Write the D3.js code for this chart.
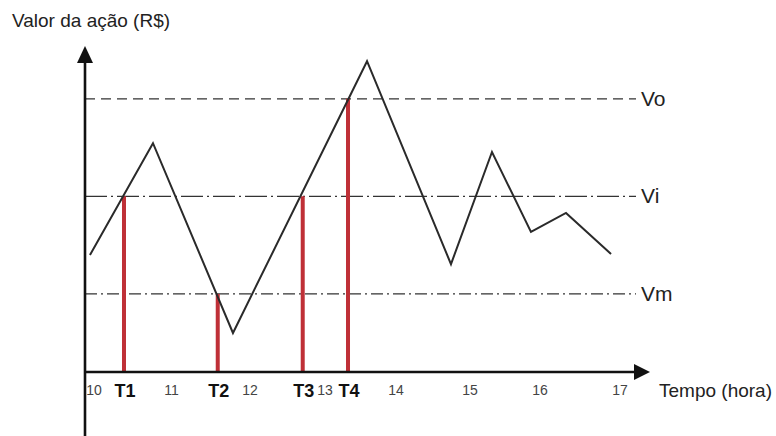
<!DOCTYPE html>
<html>
<head>
<meta charset="utf-8">
<script src="https://cdn.jsdelivr.net/npm/d3@7"></script>
<style>
  html, body { margin: 0; padding: 0; background: #fff; }
  svg { display: block; }
  text { font-family: Arial, "Liberation Sans", sans-serif; }
</style>
</head>
<body>
<svg id="chart" width="776" height="436"></svg>
<script>
// ---- data ----
const priceHours  = [9.948, 10.761, 11.783, 13.592, 14.743, 15.314, 15.871, 16.325, 16.888];
const priceValues = [8.80, 11.09, 7.20, 12.77, 8.61, 10.91, 9.27, 9.66, 8.82];

const levelNames  = ["Vo", "Vi", "Vm"];
const levelValues = [12, 10, 8];
const levelDashes = ["10,6", "22,4,2,4", "12,4,2,4"];

const eventNames  = ["T1", "T2", "T3", "T4"];
const eventHours  = [10.387, 11.589, 12.703, 13.324];
const eventLevels = ["Vi", "Vm", "Vi", "Vo"];

const hourTicks   = [10, 11, 12, 13, 14, 15, 16, 17];

const yTitle = "Valor da ação (R$)";
const xTitle = "Tempo (hora)";

// ---- layout ----
const W = 776, H = 436;
const axisX = 85;
// the hand-drawn time axis is not evenly spaced: piecewise-linear scale
const x = d3.scaleLinear().domain(hourTicks).range([94, 171.5, 250, 325, 396, 470, 540, 620]);
const y = d3.scaleLinear().domain([6.4, 13]).range([372, 50]);
const axisY = y(6.4);
const levelEnd = 636;

const svg = d3.select("#chart");

// threshold lines
const levels = levelNames.map((n, i) => ({ name: n, value: levelValues[i], dash: levelDashes[i] }));
svg.append("g").selectAll("line").data(levels).join("line")
  .attr("x1", axisX).attr("x2", levelEnd)
  .attr("y1", d => y(d.value)).attr("y2", d => y(d.value))
  .attr("stroke", "#333").attr("stroke-width", 1.2)
  .attr("stroke-dasharray", d => d.dash);

svg.append("g").selectAll("text").data(levels).join("text")
  .attr("x", levelEnd + 5).attr("y", d => y(d.value) + 7)
  .attr("font-size", 21).attr("fill", "#222")
  .text(d => d.name);

// red event bars
const levelMap = new Map(levels.map(d => [d.name, d.value]));
const events = eventNames.map((n, i) => ({ name: n, hour: eventHours[i], value: levelMap.get(eventLevels[i]) }));
svg.append("g").selectAll("line").data(events).join("line")
  .attr("x1", d => x(d.hour)).attr("x2", d => x(d.hour))
  .attr("y1", axisY).attr("y2", d => y(d.value))
  .attr("stroke", "#bf3037").attr("stroke-width", 4);

// price line
const pts = priceHours.map((h, i) => [h, priceValues[i]]);
svg.append("path")
  .datum(pts)
  .attr("fill", "none").attr("stroke", "#2a2a2a").attr("stroke-width", 2)
  .attr("stroke-linejoin", "miter")
  .attr("d", d3.line().x(d => x(d[0])).y(d => y(d[1])));

// axes
svg.append("line").attr("x1", axisX).attr("x2", axisX).attr("y1", H).attr("y2", 60)
  .attr("stroke", "#111").attr("stroke-width", 2.6);
svg.append("path")
  .attr("d", `M${axisX},46 L${axisX - 8},63 L${axisX + 8},63 Z`).attr("fill", "#111");

svg.append("line").attr("x1", axisX - 1).attr("x2", 638).attr("y1", axisY).attr("y2", axisY)
  .attr("stroke", "#111").attr("stroke-width", 2.6);
svg.append("path")
  .attr("d", `M650,${axisY} L634,${axisY - 8} L634,${axisY + 8} Z`).attr("fill", "#111");

// hour tick labels
svg.append("g").selectAll("text").data(hourTicks).join("text")
  .attr("x", d => x(d)).attr("y", 395)
  .attr("text-anchor", "middle").attr("font-size", 14).attr("fill", "#444")
  .text(d => d);

// event labels
svg.append("g").selectAll("text").data(events).join("text")
  .attr("x", d => x(d.hour) + 1).attr("y", 397)
  .attr("text-anchor", "middle").attr("font-size", 18).attr("font-weight", "bold").attr("fill", "#111")
  .text(d => d.name);

// titles
svg.append("text").attr("x", 12).attr("y", 27)
  .attr("font-size", 19).attr("fill", "#222").text(yTitle);
svg.append("text").attr("x", 659).attr("y", 397)
  .attr("font-size", 19).attr("fill", "#222").text(xTitle);
</script>
</body>
</html>
